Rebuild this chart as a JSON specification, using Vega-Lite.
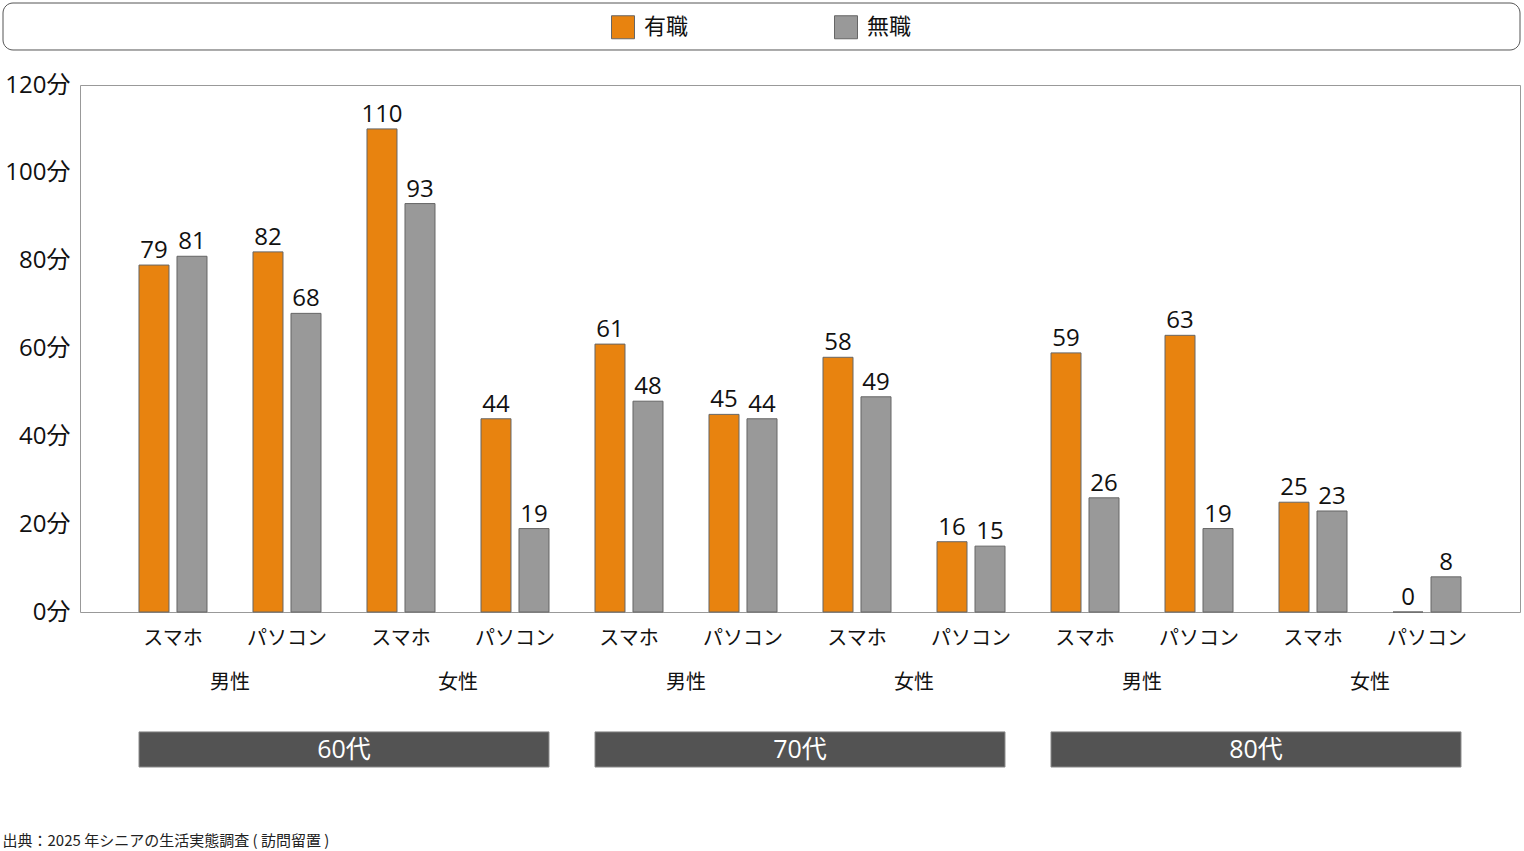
{
  "$schema": "https://vega.github.io/schema/vega-lite/v6.json",
  "padding": {"left": 2, "top": 2, "right": 4, "bottom": 2},
  "width": 1440,
  "height": 527,
  "view": {"stroke": "#999"},
  "config": {"font": "Noto Sans CJK JP"},
  "title": {"text": "出典：2025 年シニアの生活実態調査 ( 訪問留置 )", "orient": "bottom", "anchor": "start", "frame": "bounds", "fontSize": 15, "fontWeight": "normal", "color": "#222", "offset": 66},
  "datasets": {
    "bars": [
      {"group": "60代|男性|スマホ", "status": "有職", "value": 79},
      {"group": "60代|男性|スマホ", "status": "無職", "value": 81},
      {"group": "60代|男性|パソコン", "status": "有職", "value": 82},
      {"group": "60代|男性|パソコン", "status": "無職", "value": 68},
      {"group": "60代|女性|スマホ", "status": "有職", "value": 110},
      {"group": "60代|女性|スマホ", "status": "無職", "value": 93},
      {"group": "60代|女性|パソコン", "status": "有職", "value": 44},
      {"group": "60代|女性|パソコン", "status": "無職", "value": 19},
      {"group": "70代|男性|スマホ", "status": "有職", "value": 61},
      {"group": "70代|男性|スマホ", "status": "無職", "value": 48},
      {"group": "70代|男性|パソコン", "status": "有職", "value": 45},
      {"group": "70代|男性|パソコン", "status": "無職", "value": 44},
      {"group": "70代|女性|スマホ", "status": "有職", "value": 58},
      {"group": "70代|女性|スマホ", "status": "無職", "value": 49},
      {"group": "70代|女性|パソコン", "status": "有職", "value": 16},
      {"group": "70代|女性|パソコン", "status": "無職", "value": 15},
      {"group": "80代|男性|スマホ", "status": "有職", "value": 59},
      {"group": "80代|男性|スマホ", "status": "無職", "value": 26},
      {"group": "80代|男性|パソコン", "status": "有職", "value": 63},
      {"group": "80代|男性|パソコン", "status": "無職", "value": 19},
      {"group": "80代|女性|スマホ", "status": "有職", "value": 25},
      {"group": "80代|女性|スマホ", "status": "無職", "value": 23},
      {"group": "80代|女性|パソコン", "status": "有職", "value": 0},
      {"group": "80代|女性|パソコン", "status": "無職", "value": 8}
    ],
    "genders": [
      {"ag": "60代|男性", "gender": "男性"},
      {"ag": "60代|女性", "gender": "女性"},
      {"ag": "70代|男性", "gender": "男性"},
      {"ag": "70代|女性", "gender": "女性"},
      {"ag": "80代|男性", "gender": "男性"},
      {"ag": "80代|女性", "gender": "女性"}
    ],
    "ages": [{"age": "60代"}, {"age": "70代"}, {"age": "80代"}],
    "frame": [{"name": "legend-box"}]
  },
  "resolve": {"scale": {"x": "independent"}},
  "layer": [
    {
      "data": {"name": "frame"},
      "mark": {"type": "rect", "fill": "white", "fillOpacity": 0, "stroke": "#555", "strokeWidth": 1, "cornerRadius": 10},
      "encoding": {
        "x": {"datum": -0.05347, "type": "quantitative", "scale": {"domain": [0, 1], "nice": false, "zero": false}, "axis": null},
        "x2": {"datum": 1},
        "y": {"datum": 138.67, "type": "quantitative"},
        "y2": {"datum": 127.97}
      }
    },
    {
      "data": {"name": "bars"},
      "encoding": {
        "x": {"field": "group", "type": "nominal", "sort": null, "scale": {"type": "band", "paddingInner": 0.4035, "paddingOuter": 0.5175},
          "axis": {"title": null, "labelExpr": "split(datum.label, '|')[2]", "labelAngle": 0, "labelFontSize": 20, "labelPadding": 16, "ticks": false, "domain": false, "labelColor": "#111"}},
        "xOffset": {"field": "status", "type": "nominal", "sort": ["有職", "無職"], "scale": {"paddingInner": 0.2105, "paddingOuter": 0}},
        "y": {"field": "value", "type": "quantitative", "scale": {"domain": [0, 120], "nice": false},
          "axis": {"title": null, "values": [0, 20, 40, 60, 80, 100, 120], "labelExpr": "datum.value + '分'", "labelFont": "Open Sans, Noto Sans CJK JP", "labelFontSize": 24, "labelPadding": 10, "minExtent": 77, "maxExtent": 77, "ticks": false, "domain": false, "gridColor": "#e0e0e0", "labelColor": "#111"}}
      },
      "layer": [
        {
          "mark": {"type": "bar", "stroke": "#666", "strokeWidth": 1},
          "encoding": {"fill": {"field": "status", "type": "nominal", "scale": {"domain": ["有職", "無職"], "range": ["#E8830F", "#999999"]},
            "legend": {"title": null, "orient": "none", "legendX": 531, "legendY": -70, "direction": "horizontal", "padding": 0, "symbolType": "square", "symbolSize": 529, "symbolStrokeColor": "#666", "symbolStrokeWidth": 1, "symbolOpacity": 1, "labelFontSize": 22, "labelColor": "#111", "labelOffset": 9, "columnPadding": 143}}}
        },
        {
          "mark": {"type": "text", "baseline": "alphabetic", "dy": -7, "font": "Open Sans", "fontSize": 24, "color": "#111"},
          "encoding": {"text": {"field": "value", "type": "quantitative"}}
        }
      ]
    },
    {
      "data": {"name": "genders"},
      "mark": {"type": "text", "fontSize": 20, "baseline": "middle", "color": "#111"},
      "encoding": {
        "x": {"field": "ag", "type": "nominal", "sort": null, "scale": {"type": "band", "paddingInner": 0, "paddingOuter": 0.158}, "axis": null},
        "y": {"datum": -16.2, "type": "quantitative"},
        "text": {"field": "gender"}
      }
    },
    {
      "data": {"name": "ages"},
      "encoding": {
        "x": {"field": "age", "type": "nominal", "sort": null, "scale": {"type": "band", "paddingInner": 0.1009, "paddingOuter": 0.1294}, "axis": null}
      },
      "layer": [
        {
          "mark": {"type": "bar", "fill": "#535353", "stroke": "#8a8a8a", "strokeWidth": 1},
          "encoding": {"y": {"datum": -27.3, "type": "quantitative"}, "y2": {"datum": -35.3}}
        },
        {
          "mark": {"type": "text", "color": "white", "font": "Open Sans, Noto Sans CJK JP", "fontSize": 25, "baseline": "middle"},
          "encoding": {"y": {"datum": -31.5, "type": "quantitative"}, "text": {"field": "age"}}
        }
      ]
    }
  ]
}
